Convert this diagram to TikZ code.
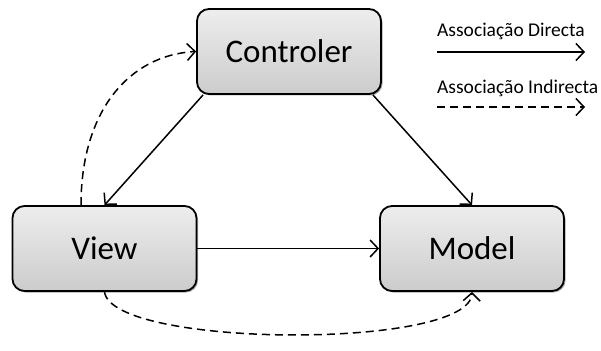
\documentclass[tikz,border=0pt]{standalone}
\usepackage{fontspec}
\setmainfont{Carlito}
\usetikzlibrary{arrows.meta,shadows,calc}
\begin{document}
\begin{tikzpicture}[x=1pt,y=-1pt,
  box/.style={draw=black, line width=1.8pt, rounded corners=12pt,
    minimum width=184pt, minimum height=85pt,
    top color=gray!14, bottom color=gray!40,
    drop shadow={shadow xshift=1.5pt, shadow yshift=-1.5pt, opacity=0.35, fill=black},
    font=\fontsize{33}{40}\selectfont},
  arr/.style={line width=1.5pt, -{Straight Barb[length=8pt,width=17pt,line width=1.5pt]}},
  darr/.style={arr, dash pattern=on 8pt off 5pt},
  legtext/.style={anchor=west, inner sep=0pt, font=\fontsize{19.5}{22}\selectfont}
]
\useasboundingbox (0,0) rectangle (601,350);

% the three components
\node[box] (ctrl)  at (289,51.5)  {Controler};
\node[box] (view)  at (104.5,248.5) {View};
\node[box] (model) at (472,248.5) {Model};

% direct associations
\draw[arr] ([xshift=7pt]ctrl.south west) -- (view.north);
\draw[arr] ([xshift=-9pt]ctrl.south east) -- (model.north);
\draw[arr] (view.east) -- (model.west);

% indirect associations
\draw[darr] ([xshift=-23.5pt]view.north) .. controls (81,110) and (130,55) .. (ctrl.west);
\draw[darr] (view.south) .. controls (112,348) and (470,350) .. (model.south);

% legend
\node[legtext] (ld) at (437,31) {Associação Directa};
\node[legtext] (li) at (437,88) {Associação Indirecta};
\coordinate (lda) at (437,52);
\coordinate (ldb) at (585,52);
\coordinate (lia) at (437,107);
\coordinate (lib) at (585,107);
\draw[arr] (lda) -- (ldb);
\draw[darr] (lia) -- (lib);
\end{tikzpicture}
\end{document}
